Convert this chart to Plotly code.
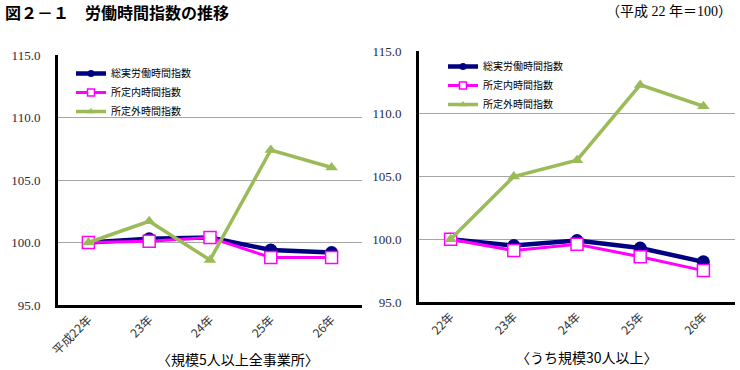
import plotly.graph_objects as go

# ---- data ----
cats_left = ["平成22年", "23年", "24年", "25年", "26年"]
cats_right = ["22年", "23年", "24年", "25年", "26年"]
series_names = ["総実労働時間指数", "所定内時間指数", "所定外時間指数"]

left_total = [100.0, 100.3, 100.4, 99.4, 99.2]
left_scheduled = [100.0, 100.1, 100.4, 98.8, 98.8]
left_overtime = [100.0, 101.7, 98.6, 107.4, 106.0]

right_total = [100.0, 99.5, 99.9, 99.3, 98.2]
right_scheduled = [100.0, 99.1, 99.6, 98.6, 97.5]
right_overtime = [100.0, 105.0, 106.3, 112.3, 110.6]

y_ticks = [95, 100, 105, 110, 115]

W, H = 740, 370
JP = "Noto Sans CJK JP"
SERIF = "Liberation Serif, Noto Sans CJK JP"

styles = [
    dict(color="#000080", width=4.5, symbol="circle", msize=13, fill="#000080", mline=0, lsize=7),
    dict(color="#FF00FF", width=3, symbol="square", msize=12, fill="#FFFFFF", mline=1.5, lsize=7),
    dict(color="#9BBB59", width=3.5, symbol="triangle-up", msize=11, fill="#9BBB59", mline=0, lsize=7),
]

fig = go.Figure()

def add_panel(cats, data, xa, ya, legend):
    for name, vals, st in zip(series_names, data, styles):
        fig.add_trace(go.Scatter(
            x=cats, y=vals, mode="lines+markers", name=name, xaxis=xa, yaxis=ya,
            line=dict(color=st["color"], width=st["width"]),
            marker=dict(symbol=st["symbol"], size=st["msize"], color=st["fill"],
                        line=dict(color=st["color"], width=st["mline"])),
            showlegend=False, hoverinfo="skip"))
    for name, st in zip(series_names, styles):
        fig.add_trace(go.Scatter(
            x=[None], y=[None], mode="lines+markers", name=name, xaxis=xa, yaxis=ya,
            line=dict(color=st["color"], width=st["width"]),
            marker=dict(symbol=st["symbol"], size=st["lsize"], color=st["fill"],
                        line=dict(color=st["color"], width=st["mline"])),
            showlegend=True, legend=legend))

add_panel(cats_left, [left_total, left_scheduled, left_overtime], "x", "y", "legend")
add_panel(cats_right, [right_total, right_scheduled, right_overtime], "x2", "y2", "legend2")

def px(x):
    return x / W

def py(y):
    return 1 - y / H

xcommon = dict(showline=True, linecolor="black", linewidth=3, showgrid=False,
               ticks="", tickangle=-45, tickfont=dict(family=JP, size=12, color="#333333"),
               range=[-0.5, 4.5], zeroline=False, fixedrange=True, automargin=False)
ycommon = dict(showline=True, linecolor="black", linewidth=3, showgrid=True,
               gridcolor="#A6A6A6", gridwidth=1, range=[95, 115], tickvals=y_ticks,
               tickformat=".1f", ticks="", ticklabelstandoff=12, automargin=False,
               tickfont=dict(family=SERIF, size=13, color="#2B2B40"), zeroline=False)

fig.update_layout(
    width=W, height=H, margin=dict(l=0, r=0, t=0, b=0, pad=0, autoexpand=False),
    paper_bgcolor="white", plot_bgcolor="white",
    xaxis=dict(domain=[px(58), px(362)], anchor="y", **xcommon),
    yaxis=dict(domain=[py(305), py(55)], anchor="x", **ycommon),
    xaxis2=dict(domain=[px(419), px(735)], anchor="y2", **xcommon),
    yaxis2=dict(domain=[py(302), py(51)], anchor="x2", **ycommon),
    legend=dict(x=px(71), y=py(59), xanchor="left", yanchor="top",
                font=dict(family=JP, size=10, color="black"), itemwidth=30,
                bgcolor="rgba(0,0,0,0)", tracegroupgap=0),
    legend2=dict(x=px(443), y=py(52), xanchor="left", yanchor="top",
                 font=dict(family=JP, size=10, color="black"), itemwidth=30,
                 bgcolor="rgba(0,0,0,0)", tracegroupgap=0),
    showlegend=True,
)

fig.add_annotation(text="<b>図２－１　労働時間指数の推移</b>", x=px(3), y=py(12), xref="paper", yref="paper",
                   xanchor="left", yanchor="middle", showarrow=False,
                   font=dict(family=JP, size=16, color="black"))
fig.add_annotation(text="（平成 22 年＝100）", x=px(734), y=py(11), xref="paper", yref="paper",
                   xanchor="right", yanchor="middle", showarrow=False,
                   font=dict(family=SERIF, size=14, color="black"))
fig.add_annotation(text="〈規模5人以上全事業所〉", x=px(238), y=py(359), xref="paper", yref="paper",
                   xanchor="center", yanchor="middle", showarrow=False,
                   font=dict(family=JP, size=14, color="black"))
fig.add_annotation(text="〈うち規模30人以上〉", x=px(587), y=py(357), xref="paper", yref="paper",
                   xanchor="center", yanchor="middle", showarrow=False,
                   font=dict(family=JP, size=14, color="black"))

fig.write_html("out.html", config=dict(displayModeBar=False),
               post_script="document.body.style.margin='0';document.body.style.padding='0';")
